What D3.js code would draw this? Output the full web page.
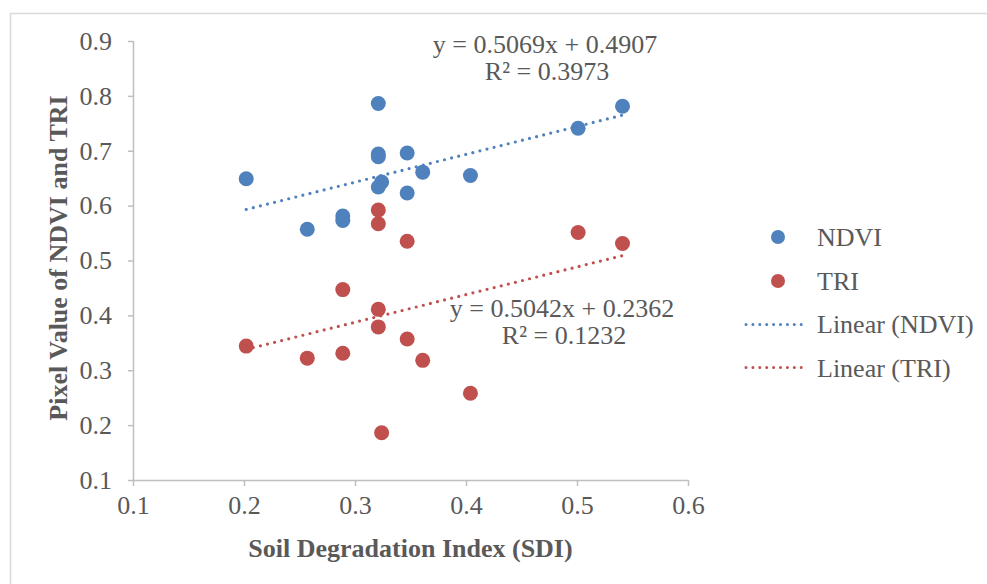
<!DOCTYPE html>
<html>
<head>
<meta charset="utf-8">
<script src="https://cdnjs.cloudflare.com/ajax/libs/d3/7.8.5/d3.min.js"></script>
<title>SDI vs NDVI and TRI</title>
<style>
  body{ margin: 0; background-color: #fff; }
  text{ font-family: "Liberation Serif", "Times New Roman", serif; fill: #595959; }
</style>
</head>
<body>
<script>
// values
var sdi  = [0.202, 0.257, 0.289, 0.289, 0.321, 0.321, 0.321, 0.321, 0.324, 0.347, 0.347, 0.361, 0.404, 0.501, 0.541],
    ndvi = [0.649, 0.557, 0.581, 0.573, 0.786, 0.694, 0.689, 0.634, 0.643, 0.696, 0.623, 0.661, 0.655, 0.741, 0.781],
    tri  = [0.344, 0.322, 0.447, 0.331, 0.592, 0.567, 0.411, 0.379, 0.186, 0.535, 0.357, 0.318, 0.258, 0.551, 0.531];

var seriesNames = ["NDVI", "TRI"],
    slopes      = [0.5069, 0.5042],
    intercepts  = [0.4907, 0.2362],
    rSquared    = ["0.3973", "0.1232"],
    xTicks      = [0.1, 0.2, 0.3, 0.4, 0.5, 0.6],
    yTicks      = [0.1, 0.2, 0.3, 0.4, 0.5, 0.6, 0.7, 0.8, 0.9];

var colors = ["#4f81bd", "#c0504d"],
    w = 987, h = 584,
    pLeft = 133, pRight = 688, pTop = 41, pBottom = 480;

var svg = d3.select("body").append("svg")
    .attr("width", w)
    .attr("height", h);

// chart frame (only top and left edges show)
svg.append("path")
    .attr("d", "M10.5," + h + "V13.5H" + w)
    .attr("fill", "none")
    .attr("stroke", "#d9d9d9")
    .attr("stroke-width", 1.5);

var x = d3.scaleLinear().domain([0.1, 0.6]).range([pLeft, pRight]),
    y = d3.scaleLinear().domain([0.1, 0.9]).range([pBottom, pTop]);

var xAxis = svg.append("g")
    .attr("transform", "translate(0," + pBottom + ")")
    .call(d3.axisBottom(x).tickValues(xTicks).tickFormat(d3.format(".1f")).tickSize(6).tickPadding(10));

var yAxis = svg.append("g")
    .attr("transform", "translate(" + pLeft + ",0)")
    .call(d3.axisLeft(y).tickValues(yTicks).tickFormat(d3.format(".1f")).tickSize(5).tickPadding(16));

[xAxis, yAxis].forEach(function(g){
  g.select(".domain").attr("d", g === xAxis ? "M" + pLeft + ",0.5H" + pRight : "M0.5," + pBottom + "V" + pTop);
  g.selectAll("path, line").attr("stroke", "#bfbfbf").attr("stroke-width", 1.5);
  g.selectAll("text").style("font-family", "Liberation Serif").style("font-size", "26px").attr("fill", "#595959");
});

// axis titles
svg.append("text")
    .attr("x", (pLeft + pRight) / 2)
    .attr("y", 557)
    .attr("text-anchor", "middle")
    .style("font-size", "26px")
    .style("font-weight", "bold")
    .text("Soil Degradation Index (SDI)");

svg.append("text")
    .attr("transform", "translate(67,258) rotate(-90)")
    .attr("text-anchor", "middle")
    .style("font-size", "26px")
    .style("font-weight", "bold")
    .text("Pixel Value of NDVI and TRI");

var series = [ndvi, tri];

// points
series.forEach(function(vals, s){
  svg.append("g").selectAll("circle")
    .data(vals)
    .enter().append("circle")
      .attr("cx", function(d, i){ return x(sdi[i]); })
      .attr("cy", function(d){ return y(d); })
      .attr("r", 7.5)
      .attr("fill", colors[s]);
});

// linear trendlines
var xMin = d3.min(sdi), xMax = d3.max(sdi);
series.forEach(function(vals, s){
  svg.append("line")
    .attr("x1", x(xMin)).attr("y1", y(slopes[s] * xMin + intercepts[s]))
    .attr("x2", x(xMax)).attr("y2", y(slopes[s] * xMax + intercepts[s]))
    .attr("stroke", colors[s])
    .attr("stroke-width", 3.2)
    .attr("stroke-linecap", "round")
    .attr("stroke-dasharray", "0,7.3");
});

// equation labels
var eqPos = [[545, 53], [562, 317]];
series.forEach(function(vals, s){
  var t = svg.append("text")
    .attr("text-anchor", "middle")
    .style("font-size", "26px");
  t.append("tspan")
    .attr("x", eqPos[s][0]).attr("y", eqPos[s][1])
    .text("y = " + slopes[s].toFixed(4) + "x + " + intercepts[s].toFixed(4));
  t.append("tspan")
    .attr("x", eqPos[s][0] + 2).attr("y", eqPos[s][1] + 27)
    .text("R\u00b2 = " + rSquared[s]);
});

// legend
var legend = svg.append("g");
seriesNames.forEach(function(name, s){
  legend.append("circle")
    .attr("cx", 778).attr("cy", 237 + s * 44)
    .attr("r", 7)
    .attr("fill", colors[s]);
  legend.append("text")
    .attr("x", 817).attr("y", 246 + s * 44)
    .style("font-size", "26px")
    .text(name);
  legend.append("line")
    .attr("x1", 746).attr("x2", 808)
    .attr("y1", 324.5 + s * 43).attr("y2", 324.5 + s * 43)
    .attr("stroke", colors[s])
    .attr("stroke-width", 3)
    .attr("stroke-linecap", "round")
    .attr("stroke-dasharray", "0,6.9");
  legend.append("text")
    .attr("x", 817).attr("y", 333 + s * 44)
    .style("font-size", "26px")
    .text("Linear (" + name + ")");
});
</script>
</body>
</html>
